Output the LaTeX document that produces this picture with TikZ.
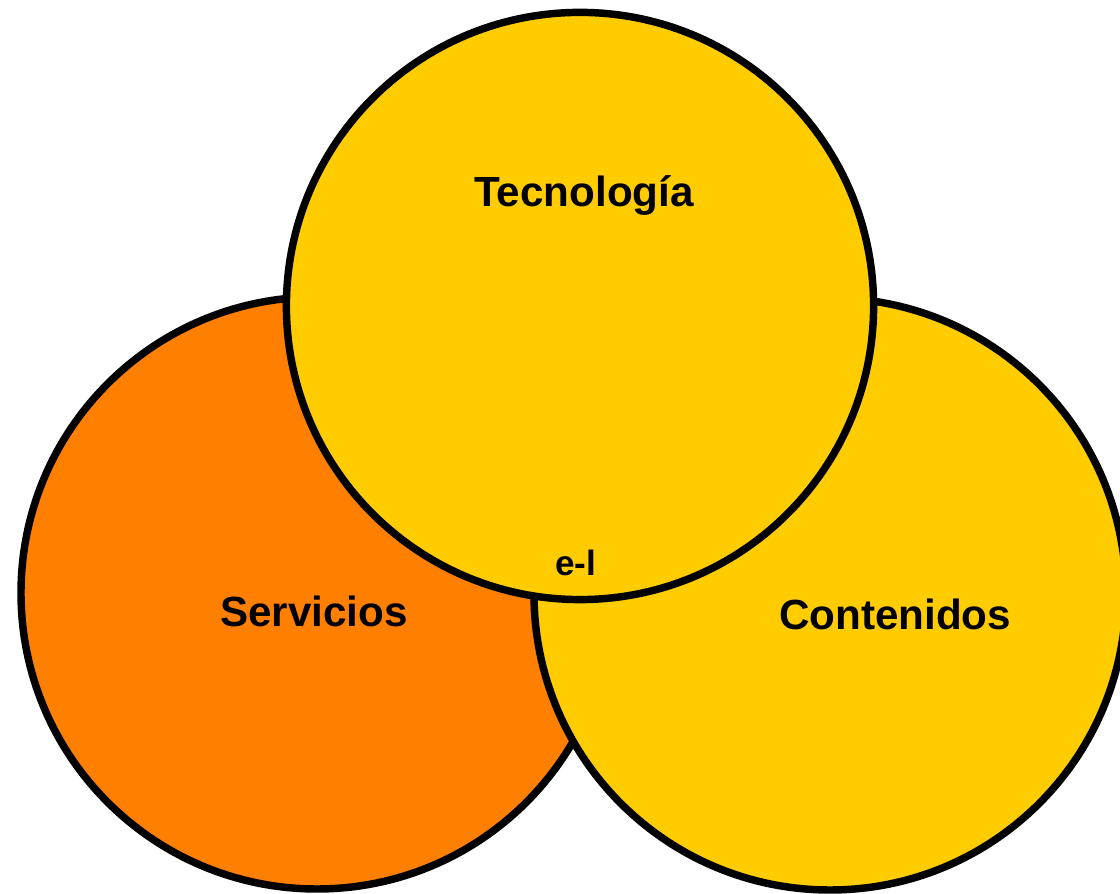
\documentclass[tikz,border=0pt]{standalone}
\usepackage{fontspec}
\setmainfont{Liberation Sans}
\usepackage{tikz}
\usetikzlibrary{positioning}
\definecolor{servorange}{HTML}{FF7F00}
\definecolor{techyellow}{HTML}{FFCC00}
\tikzset{ring/.style={draw=black, line width=5.3pt},
         lbl/.style={anchor=base, font=\bfseries\fontsize{30}{36}\selectfont},
         small/.style={anchor=base, font=\bfseries\fontsize{25}{30}\selectfont}
}

\begin{document}
\begin{tikzpicture}
      \useasboundingbox (0,0) rectangle (28,22.35);
      \begin{scope}
        \clip (0,0) rectangle (28,22.35);
        \draw[ring, fill=servorange] (7.925,7.525) circle (7.4);
        \draw[ring, fill=techyellow] (20.75,7.5) circle (7.4);
        \draw[ring, fill=techyellow] (14.5,14.7) circle (7.34);
      \end{scope}
      \node[lbl] (tec) at (14.6,17.175) {Tecnología};
      \node[lbl] (serv) at (7.85,6.69) {Servicios};
      \node[lbl] (cont) at (22.375,6.61) {Contenidos};
      \node[small] (el) at (14.39,7.96) {e-l};
    \end{tikzpicture}
\end{document}
